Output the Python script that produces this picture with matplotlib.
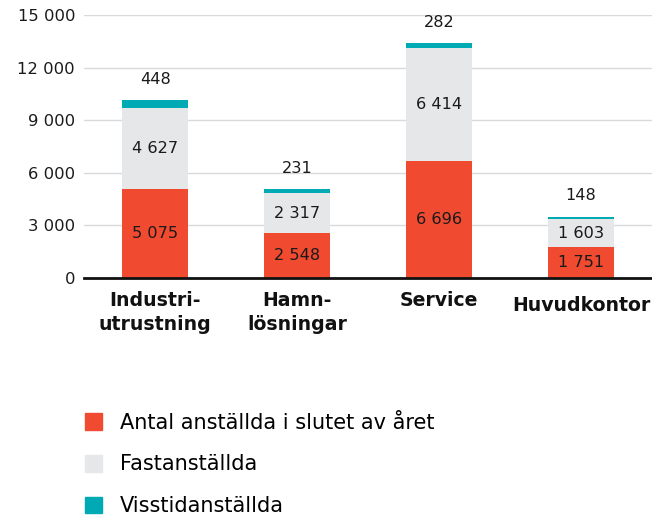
import matplotlib
matplotlib.use("Agg")
import matplotlib.pyplot as plt
from matplotlib.patches import Patch
from matplotlib.ticker import FuncFormatter

categories = ["Industri-\nutrustning", "Hamn-\nlösningar", "Service", "Huvudkontor"]
antal = [5075, 2548, 6696, 1751]
fast = [4627, 2317, 6414, 1603]
visstid = [448, 231, 282, 148]
series_labels = ["Antal anställda i slutet av året", "Fastanställda", "Visstidanställda"]
yticks = [0, 3000, 6000, 9000, 12000, 15000]

RED = "#F04A30"
GREY = "#E6E7E9"
TEAL = "#00AAB5"

plt.rcParams["font.family"] = ["DejaVu Sans"]

def fmt(v):
    return f"{int(v):,}".replace(",", " ")

fig = plt.figure(figsize=(6.52, 5.16), dpi=100)
ax = fig.add_axes([0.129, 0.461, 0.871, 0.51])

x = list(range(len(categories)))
w = 0.46
ax.bar(x, antal, width=w, color=RED, zorder=3)
ax.bar(x, fast, width=w, bottom=antal, color=GREY, zorder=3)
bottom3 = [a + f for a, f in zip(antal, fast)]
ax.bar(x, visstid, width=w, bottom=bottom3, color=TEAL, zorder=3)

for i in x:
    ax.text(i, antal[i] / 2, fmt(antal[i]), ha="center", va="center", fontsize=11.6, color="#1a1a1a", zorder=4)
    ax.text(i, antal[i] + fast[i] / 2, fmt(fast[i]), ha="center", va="center", fontsize=11.6, color="#1a1a1a", zorder=4)
    top = antal[i] + fast[i] + visstid[i]
    ax.annotate(fmt(visstid[i]), (i, top), xytext=(0, 9.5), textcoords="offset points",
                ha="center", va="bottom", fontsize=11.6, color="#1a1a1a")

ax.set_xlim(-0.5, 3.5)
ax.set_ylim(0, 15000)
ax.set_yticks(yticks)
ax.yaxis.set_major_formatter(FuncFormatter(lambda v, p: fmt(v)))
ax.tick_params(axis="y", length=0, pad=6.5, labelsize=11.8, labelcolor="#1a1a1a")
ax.grid(axis="y", color="#D9D9D9", linewidth=1.0, zorder=0)
for s in ["top", "right", "left"]:
    ax.spines[s].set_visible(False)
ax.spines["bottom"].set_linewidth(2.0)
ax.spines["bottom"].set_color("#111111")
ax.spines["bottom"].set_zorder(5)

ax.set_xticks(x)
ax.set_xticklabels([])
ax.tick_params(axis="x", length=0)
label_offsets = [0, 0, 0, -4]
for i, lab in enumerate(categories):
    ax.annotate(lab, (i, 0), xycoords="data", xytext=(0, -9 + label_offsets[i]),
                textcoords="offset points", ha="center", va="top", fontsize=13.6,
                fontweight="bold", linespacing=1.38, color="#111111")

handles = [Patch(color=RED), Patch(color=GREY), Patch(color=TEAL)]
fig.legend(handles, series_labels, loc="upper left", bbox_to_anchor=(0.13, 0.2),
           frameon=False, fontsize=15, handlelength=0.85, handleheight=0.85,
           handletextpad=0.85, labelspacing=1.04, borderaxespad=0, borderpad=0)

fig.savefig("out.png", dpi=100)
